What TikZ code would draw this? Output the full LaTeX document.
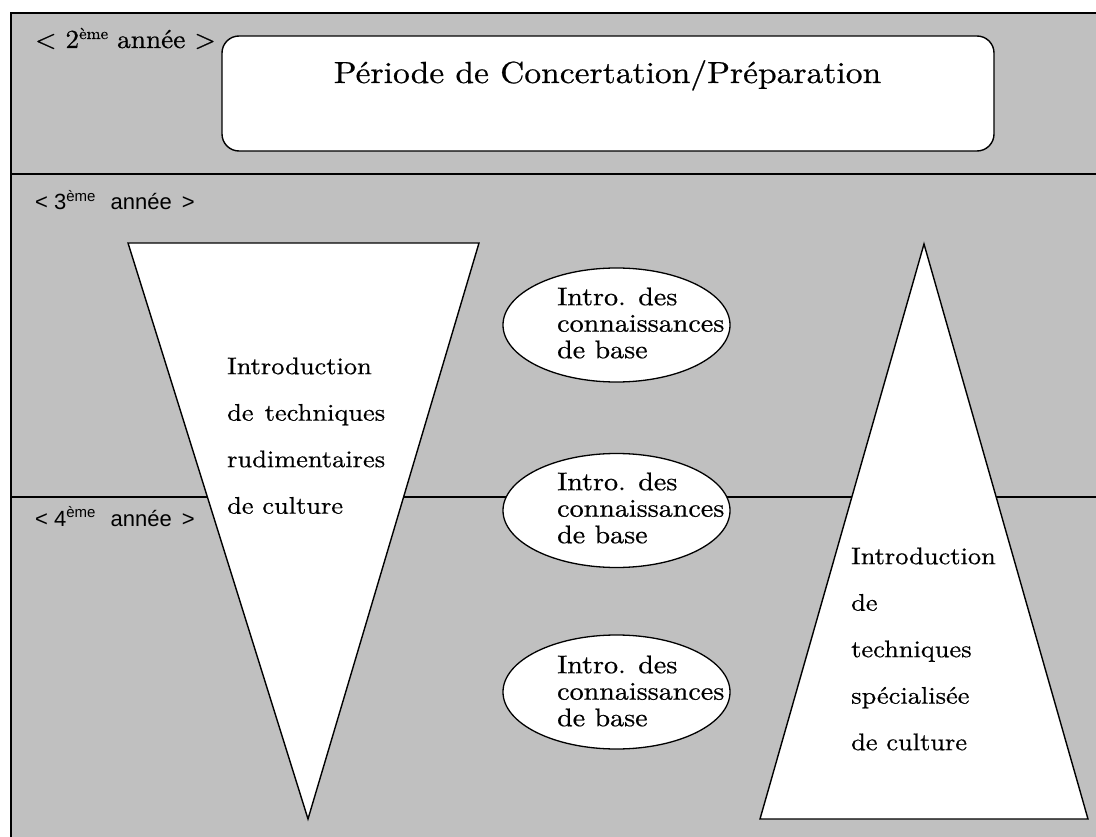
\documentclass[tikz,border=0pt]{standalone}
\usepackage{fontspec}
\usepackage{calc}
\newfontfamily\labelsans{Liberation Sans}
% widened, slightly heavier serif faces
\newfontfamily\wideserif{lmroman10-regular.otf}[FakeStretch=1.10, FakeBold=0.6]
\newfontfamily\yearserif{lmroman10-regular.otf}[FakeStretch=1.05, FakeBold=0.6]
\usetikzlibrary{shapes.geometric}
\definecolor{bandgray}{HTML}{C0C0C0}
\begin{document}
\begin{tikzpicture}[x=1pt,y=-1pt,
  outline/.style={line width=1.4pt, line join=miter},
  sepline/.style={line width=1.3pt},
  blob/.style={ellipse, draw, line width=1.3pt, fill=white, minimum width=227pt, minimum height=114pt, inner sep=0pt},
  blobtext/.style={anchor=north west, inner sep=0pt, align=left, font=\wideserif\fontsize{25.5}{26.5}\selectfont},
  tritext/.style={anchor=north west, inner sep=0pt, align=left, font=\wideserif\fontsize{24}{46.5}\selectfont},
  yearlabel/.style={anchor=base west, inner sep=0pt, font=\yearserif\fontsize{26}{30}\selectfont},
  yearsans/.style={anchor=base west, inner sep=0pt, font=\labelsans\fontsize{22}{26}\selectfont}]
\useasboundingbox (0,0) rectangle (1096,837);

% background and frame
\fill[bandgray] (11,13) rectangle (1096,837);
\draw[outline] (11,837) -- (11,13) -- (1096,13);

% year separators
\draw[sepline] (11,174) -- (1096,174);
\draw[sepline] (11,497) -- (1096,497);

% year labels
\node[yearlabel] (y2) at (35,48) {< 2\raisebox{9pt}{\fontsize{16}{16}\selectfont ème} année >};
\node[yearsans] (y3) at (35,210) {< 3\raisebox{8.5pt}{\fontsize{15}{15}\selectfont ème}\hspace{15pt}année\hspace{4pt} >};
\node[yearsans] (y4) at (35,526) {< 4\raisebox{8.5pt}{\fontsize{15}{15}\selectfont ème}\hspace{15pt}année\hspace{4pt} >};

% preparation period box
\node[draw, line width=1.4pt, fill=white, rounded corners=17pt, minimum width=772pt, minimum height=115pt, inner sep=0pt] (prep) at (608,93.5) {};
\node[anchor=base, inner sep=0pt, font=\wideserif\fontsize{30.5}{32}\selectfont] (title) at (607.5,83) {Période de Concertation/Préparation};

% rudimentary techniques: downward triangle
\filldraw[outline, fill=white] (128,243) -- (479,243) -- (308,819) -- cycle;
\node[tritext] (rud) at (227,357.3) {Introduction\\\makebox[\widthof{rudimentaires}][s]{de techniques}\\rudimentaires\\de culture};

% specialised techniques: upward triangle
\filldraw[outline, fill=white] (924,244) -- (1088,819) -- (760,819) -- cycle;
\node[tritext] (spe) at (851,547.3) {Introduction\\de\\techniques\\spécialisée\\de culture};

% basic knowledge ellipses
\node[blob] (e1) at (616.5,325) {};
\node[blob] (e2) at (616.5,510.5) {};
\node[blob] (e3) at (616.5,692) {};
\node[blobtext] (t1) at (557,287.3) {Intro. des\\connaissances\\de base};
\node[blobtext] (t2) at (557,472.3) {Intro. des\\connaissances\\de base};
\node[blobtext] (t3) at (557,655.3) {Intro. des\\connaissances\\de base};
\end{tikzpicture}
\end{document}
